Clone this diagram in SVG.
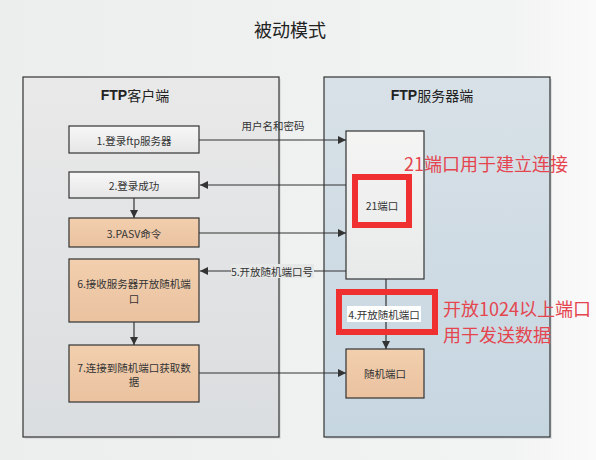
<svg xmlns="http://www.w3.org/2000/svg" width="596" height="460" viewBox="0 0 596 460">
<defs>
<linearGradient id="bg" x1="0" y1="0" x2="1" y2="0"><stop offset="0" stop-color="#eceeee"/><stop offset="0.85" stop-color="#f2f3f3"/><stop offset="1" stop-color="#fafafa"/></linearGradient>
<linearGradient id="lp" x1="0" y1="0" x2="0" y2="1"><stop offset="0" stop-color="#e9e9e9"/><stop offset="1" stop-color="#dadddf"/></linearGradient>
<linearGradient id="rp" x1="0" y1="0" x2="0" y2="1"><stop offset="0" stop-color="#d8e1e7"/><stop offset="1" stop-color="#c6d6e1"/></linearGradient>
<linearGradient id="wb" x1="0" y1="0" x2="0" y2="1"><stop offset="0" stop-color="#f7f7f7"/><stop offset="1" stop-color="#e6e6e6"/></linearGradient>
<linearGradient id="ob" x1="0" y1="0" x2="0" y2="1"><stop offset="0" stop-color="#f2cfae"/><stop offset="1" stop-color="#eac2a0"/></linearGradient>
<linearGradient id="sb" x1="0" y1="0" x2="0" y2="1"><stop offset="0" stop-color="#f4f4f3"/><stop offset="1" stop-color="#e8eaea"/></linearGradient>
<marker id="ah" viewBox="0 0 10 10" refX="10" refY="5" markerWidth="8" markerHeight="8" markerUnits="userSpaceOnUse" orient="auto"><path d="M0,0 L10,5 L0,10 z" fill="#333"/></marker>
</defs>
<style>
.panel{stroke:#333;stroke-width:1.2}
.box{stroke:#333;stroke-width:1.2}
.t{font-family:"Noto Sans CJK SC","Liberation Sans",sans-serif;fill:#333;font-size:10.5px;text-anchor:middle;dominant-baseline:central}
.h{font-family:"Noto Sans CJK SC","Liberation Sans",sans-serif;fill:#222;font-size:14px;text-anchor:middle;dominant-baseline:central}
.c{stroke:#333;stroke-width:1.2;fill:none}
.red{font-family:"Noto Sans CJK SC",sans-serif;fill:#e4454f;font-size:18px;dominant-baseline:central}
.rr{fill:none;stroke:#f03030;stroke-width:6}
</style>
<rect x="0" y="0" width="596" height="460" fill="url(#bg)"/>
<text x="290" y="29" class="h" style="font-size:18px">被动模式</text>
<g id="client-panel">
<rect x="25" y="79" width="256" height="360" fill="#cfd2d3" opacity="0.6"/>
<rect x="23" y="77" width="256" height="360" fill="url(#lp)" class="panel"/>
<text x="135" y="95" class="h"><tspan font-weight="bold" font-family="Liberation Sans">FTP</tspan>客户端</text>
</g>
<g id="server-panel">
<rect x="326" y="79" width="226" height="360" fill="#c9d0d4" opacity="0.6"/>
<rect x="324" y="77" width="226" height="360" fill="url(#rp)" class="panel"/>
<text x="432" y="95" class="h"><tspan font-weight="bold" font-family="Liberation Sans">FTP</tspan>服务器端</text>
</g>
<g id="n1"><rect x="69" y="126" width="130" height="27" fill="url(#wb)" class="box"/><text x="134" y="140" class="t">1.登录ftp服务器</text></g>
<g id="n2"><rect x="69" y="172" width="130" height="26" fill="url(#wb)" class="box"/><text x="134" y="185" class="t">2.登录成功</text></g>
<g id="n3"><rect x="69" y="218" width="130" height="29" fill="url(#ob)" class="box"/><text x="134" y="233" class="t">3.PASV命令</text></g>
<g id="n6"><rect x="69" y="259" width="130" height="63" fill="url(#ob)" class="box"/><text x="134" y="283" class="t">6.接收服务器开放随机端</text><text x="134" y="298" class="t">口</text></g>
<g id="n7"><rect x="69" y="345" width="130" height="57" fill="url(#ob)" class="box"/><text x="134" y="367" class="t">7.连接到随机端口获取数</text><text x="134" y="381" class="t">据</text></g>
<g id="server21"><rect x="346" y="131" width="78" height="148" fill="url(#sb)" class="box"/><rect x="355" y="177" width="54" height="48" class="rr"/><text x="382" y="205" class="t">21端口</text></g>
<g id="random-port"><rect x="346" y="349" width="78" height="49" fill="url(#ob)" class="box"/><text x="385" y="373" class="t">随机端口</text></g>
<g id="connectors">
<line x1="199" y1="140" x2="346" y2="140" class="c" marker-end="url(#ah)"/>
<line x1="346" y1="185" x2="200" y2="185" class="c" marker-end="url(#ah)"/>
<line x1="199" y1="233" x2="346" y2="233" class="c" marker-end="url(#ah)"/>
<line x1="346" y1="271" x2="200" y2="271" class="c" marker-end="url(#ah)"/>
<line x1="134" y1="198" x2="134" y2="218" class="c" marker-end="url(#ah)"/>
<line x1="134" y1="322" x2="134" y2="345" class="c" marker-end="url(#ah)"/>
<line x1="199" y1="373" x2="346" y2="373" class="c" marker-end="url(#ah)"/>
<line x1="386" y1="279" x2="386" y2="349" class="c" marker-end="url(#ah)"/>
<text x="273" y="125" class="t">用户名和密码</text>
<rect x="231" y="264" width="83" height="14" fill="#e6e8e8"/>
<text x="272" y="271" class="t">5.开放随机端口号</text>
</g>
<g id="port4">
<rect x="339" y="292" width="96" height="40" class="rr"/>
<rect x="347" y="306" width="74" height="16" fill="#ffffff"/>
<text x="384" y="314" class="t">4.开放随机端口</text>
</g>
<text x="404" y="163" class="red">21端口用于建立连接</text>
<text x="443" y="308" class="red">开放1024以上端口</text>
<text x="443" y="334" class="red">用于发送数据</text>
</svg>
